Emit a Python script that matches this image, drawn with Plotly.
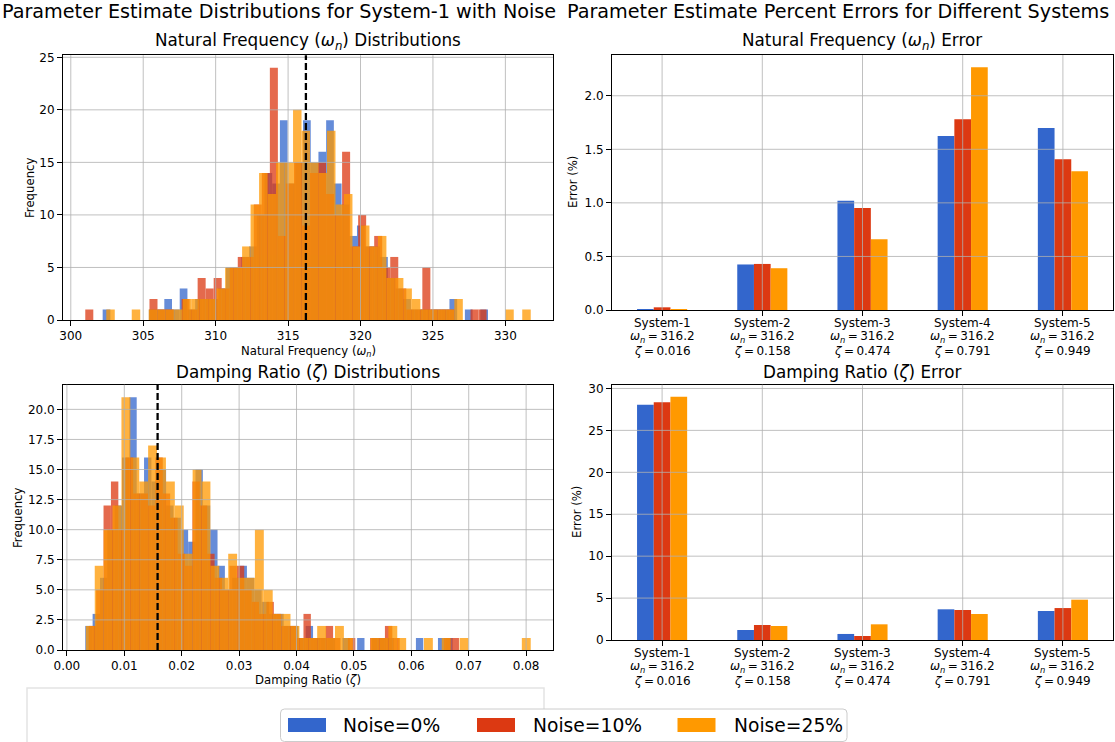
import plotly.graph_objects as go

W, H = 1115, 742
FONT = "DejaVu Sans"

# ---------------- data ----------------
noise_labels = ["Noise=0%", "Noise=10%", "Noise=25%"]
colors = ["#3366CC", "#DC3912", "#FF9900"]

# Natural frequency histograms: first bin edge, bin width, counts (50 bins each)
wn_start = [302.2, 301.0, 302.45]
wn_width = [0.532, 0.554, 0.586]
wn_counts_0 = [1, 0, 0, 0, 0, 0, 1, 1, 2, 1, 3, 1, 2, 2, 2, 3, 5, 5, 6, 7,
               10, 14, 13, 19, 13, 15, 19, 15, 16, 19, 13, 11, 8, 9, 7, 7, 6, 4, 3, 2,
               1, 1, 1, 1, 1, 2, 0, 1, 0, 1]
wn_counts_10 = [1, 0, 0, 0, 0, 0, 0, 0, 2, 1, 1, 0, 2, 1, 4, 3, 4, 3, 5, 6,
                6, 11, 14, 24, 8, 13, 15, 9, 14, 15, 12, 10, 16, 7, 10, 7, 8, 5, 6, 3,
                1, 1, 5, 1, 1, 1, 0, 0, 1, 1]
wn_counts_25 = [1, 0, 0, 1, 0, 1, 1, 1, 1, 2, 2, 2, 2, 3, 5, 5, 7, 11, 14, 12,
                15, 15, 20, 18, 15, 14, 18, 11, 12, 7, 9, 7, 8, 4, 4, 3, 2, 1, 1, 1,
                1, 2, 0, 0, 0, 0, 0, 1, 0, 1]

# Damping ratio histograms
zeta_start = [0.0032, 0.0038, 0.0033]
zeta_width = [0.00128, 0.00129, 0.00155]
zeta_counts_0 = [2, 3, 6, 10, 12, 16, 21, 13, 16, 14, 15, 12, 11, 10, 9, 15, 12, 10, 7, 5,
                 6, 7, 6, 5, 4, 3, 3, 2, 2, 1, 2, 1, 1, 1, 0, 1, 0, 1, 0, 1,
                 1, 1, 0, 0, 0, 1, 0, 0, 1, 1]
zeta_counts_10 = [2, 5, 12, 14, 10, 16, 13, 13, 12, 16, 13, 11, 8, 7, 14, 12, 8, 6, 5, 7,
                  7, 5, 4, 3, 4, 3, 2, 2, 1, 3, 1, 1, 2, 1, 0, 1, 0, 0, 1, 1,
                  2, 1, 0, 0, 0, 0, 0, 0, 1, 1]
zeta_counts_25 = [2, 7, 10, 12, 21, 16, 14, 17, 16, 14, 12, 8, 15, 14, 7, 6, 8, 6, 6, 10,
                  5, 3, 3, 2, 1, 1, 2, 1, 2, 1, 0, 0, 1, 1, 2, 1, 0, 0, 1, 0,
                  1, 0, 1, 0, 0, 0, 0, 0, 0, 1]

TRUE_WN = 316.23
TRUE_ZETA = 0.0158

systems = ["System-1", "System-2", "System-3", "System-4", "System-5"]
sys_wn = [316.2, 316.2, 316.2, 316.2, 316.2]
sys_zeta = [0.016, 0.158, 0.474, 0.791, 0.949]

wn_err_0 = [0.003, 0.425, 1.02, 1.624, 1.70]
wn_err_10 = [0.025, 0.43, 0.953, 1.78, 1.407]
wn_err_25 = [0.008, 0.39, 0.66, 2.267, 1.295]

zeta_err_0 = [28.05, 1.19, 0.72, 3.66, 3.46]
zeta_err_10 = [28.37, 1.79, 0.48, 3.58, 3.81]
zeta_err_25 = [29.0, 1.67, 1.87, 3.10, 4.81]

# ---------------- helpers ----------------
def px(x):
    return x / W

def py(y):
    return 1 - y / H

def centers(start, width, n):
    return [start + width * (i + 0.5) for i in range(n)]

wn_counts = [wn_counts_0, wn_counts_10, wn_counts_25]
zeta_counts = [zeta_counts_0, zeta_counts_10, zeta_counts_25]
wn_err = [wn_err_0, wn_err_10, wn_err_25]
zeta_err = [zeta_err_0, zeta_err_10, zeta_err_25]

fig = go.Figure()

def add_hist(starts, widths, counts_list, xa, ya):
    for k in range(3):
        n = len(counts_list[k])
        fig.add_trace(go.Bar(
            x=centers(starts[k], widths[k], n), y=counts_list[k], width=widths[k],
            marker=dict(color=colors[k], line=dict(width=0)), opacity=0.75,
            xaxis=xa, yaxis=ya, showlegend=False, name=noise_labels[k]))

add_hist(wn_start, wn_width, wn_counts, "x", "y")
add_hist(zeta_start, zeta_width, zeta_counts, "x2", "y2")

bw = 0.5 / 3
for k in range(3):
    fig.add_trace(go.Bar(x=systems, y=wn_err[k], width=bw, offset=-0.25 + k * bw,
                         marker=dict(color=colors[k], line=dict(width=0)),
                         xaxis="x3", yaxis="y3", showlegend=False, name=noise_labels[k]))
    fig.add_trace(go.Bar(x=systems, y=zeta_err[k], width=bw, offset=-0.25 + k * bw,
                         marker=dict(color=colors[k], line=dict(width=0)),
                         xaxis="x4", yaxis="y4", showlegend=False, name=noise_labels[k]))

# ranges derived from the data
def hist_xrange(starts, widths, counts_list):
    lo = min(starts)
    hi = max(s + w * len(c) for s, w, c in zip(starts, widths, counts_list))
    m = (hi - lo) * 0.05
    return [lo - m, hi + m]

wn_xr = hist_xrange(wn_start, wn_width, wn_counts)
z_xr = hist_xrange(zeta_start, zeta_width, zeta_counts)
wn_yr = [0, max(max(c) for c in wn_counts) * 1.05]
z_yr = [0, max(max(c) for c in zeta_counts) * 1.05]
e1_yr = [0, max(max(e) for e in wn_err) * 1.05]
e2_yr = [0, max(max(e) for e in zeta_err) * 1.05]

tick_font = dict(family=FONT, size=12, color="black")
common = dict(showline=True, mirror=True, linecolor="black", linewidth=1,
              ticks="outside", ticklen=5, tickcolor="black", tickwidth=1,
              showgrid=False, zeroline=False, tickfont=tick_font, automargin=False)

dom_left = [px(63), px(553)]
dom_right = [px(612), px(1113)]

wn_xt = [300, 305, 310, 315, 320, 325, 330]
wn_yt = [0, 5, 10, 15, 20, 25]
z_xt = [0.0, 0.01, 0.02, 0.03, 0.04, 0.05, 0.06, 0.07, 0.08]
z_yt = [0, 2.5, 5, 7.5, 10, 12.5, 15, 17.5, 20]
e1_yt = [0, 0.5, 1.0, 1.5, 2.0]
e2_yt = [0, 5, 10, 15, 20, 25, 30]

fig.update_layout(
    width=W, height=H, autosize=False,
    margin=dict(l=0, r=0, t=0, b=0, pad=0, autoexpand=False),
    paper_bgcolor="white", plot_bgcolor="white", barmode="overlay",
    font=dict(family=FONT, color="black"),
    xaxis=dict(domain=dom_left, anchor="y", range=wn_xr, tickvals=wn_xt, **common),
    yaxis=dict(domain=[py(320), py(55.2)], anchor="x", range=wn_yr, tickvals=wn_yt, **common),
    xaxis2=dict(domain=dom_left, anchor="y2", range=z_xr, tickvals=z_xt, tickformat=".2f", **common),
    yaxis2=dict(domain=[py(650), py(384.7)], anchor="x2", range=z_yr, tickvals=z_yt, tickformat=".1f", **common),
    xaxis3=dict(domain=dom_right, anchor="y3", type="category", range=[-0.5, 4.5],
                showticklabels=False, **common),
    yaxis3=dict(domain=[py(310), py(55)], anchor="x3", range=e1_yr, tickvals=e1_yt, tickformat=".1f", **common),
    xaxis4=dict(domain=dom_right, anchor="y4", type="category", range=[-0.5, 4.5],
                showticklabels=False, **common),
    yaxis4=dict(domain=[py(640), py(384.7)], anchor="x4", range=e2_yr, tickvals=e2_yt, **common),
)

shapes = []
GRID = dict(color="#b0b0b0", width=0.8)

def vgrid(xref, vals):
    yr = "y" if xref == "x" else "y" + xref[1:]
    for v in vals:
        shapes.append(dict(type="line", xref=xref, yref=f"{yr} domain",
                           x0=v, x1=v, y0=0, y1=1, line=GRID, layer="above"))

def hgrid(yref, vals, rng):
    xr = "x" if yref == "y" else "x" + yref[1:]
    for v in vals:
        if v <= rng[0] or v >= rng[1]:
            continue
        shapes.append(dict(type="line", xref=f"{xr} domain", yref=yref,
                           x0=0, x1=1, y0=v, y1=v, line=GRID, layer="above"))

vgrid("x", wn_xt); hgrid("y", wn_yt, wn_yr)
vgrid("x2", z_xt); hgrid("y2", z_yt, z_yr)
vgrid("x3", systems); hgrid("y3", e1_yt, e1_yr)
vgrid("x4", systems); hgrid("y4", e2_yt, e2_yr)

# true-value reference lines
shapes.append(dict(type="line", xref="x", yref="y domain", x0=TRUE_WN, x1=TRUE_WN, y0=0, y1=1,
                   line=dict(color="black", width=2.3, dash="7px,3px"), layer="above"))
shapes.append(dict(type="line", xref="x2", yref="y2 domain", x0=TRUE_ZETA, x1=TRUE_ZETA, y0=0, y1=1,
                   line=dict(color="black", width=2.3, dash="7px,3px"), layer="above"))

# faint empty box below bottom-left plot
shapes.append(dict(type="rect", xref="paper", yref="paper", x0=px(27), x1=px(544),
                   y0=py(760), y1=py(688), line=dict(color="#e4e4e4", width=1.5),
                   fillcolor="rgba(0,0,0,0)", layer="below"))

# legend frame (rounded)
def rounded_rect(x0, y0, x1, y1, r):
    X0, X1 = px(x0), px(x1)
    Y0, Y1 = py(y0), py(y1)
    rx, ry = r / W, r / H
    return (f"M {X0 + rx},{Y0} L {X1 - rx},{Y0} Q {X1},{Y0} {X1},{Y0 - ry} "
            f"L {X1},{Y1 + ry} Q {X1},{Y1} {X1 - rx},{Y1} L {X0 + rx},{Y1} "
            f"Q {X0},{Y1} {X0},{Y1 + ry} L {X0},{Y0 - ry} Q {X0},{Y0} {X0 + rx},{Y0} Z")

shapes.append(dict(type="path", xref="paper", yref="paper",
                   path=rounded_rect(280.5, 709, 847, 741.5, 4),
                   line=dict(color="#cccccc", width=1), fillcolor="white", layer="above"))

leg_patch_x = [288, 477, 677.5]
leg_text_x = [341, 531, 732]
for k in range(3):
    shapes.append(dict(type="rect", xref="paper", yref="paper",
                       x0=px(leg_patch_x[k]), x1=px(leg_patch_x[k] + 38),
                       y0=py(732), y1=py(718), line=dict(width=0),
                       fillcolor=colors[k], layer="above"))

fig.update_layout(shapes=shapes)

ann = []
def text(x, y, s, size, xanchor="center", angle=0, xref="paper"):
    ann.append(dict(x=px(x) if xref == "paper" else x, y=py(y), xref=xref, yref="paper",
                    text=s, showarrow=False, xanchor=xanchor, yanchor="middle",
                    textangle=angle, font=dict(family=FONT, size=size, color="black")))

text(279, 12, "Parameter Estimate Distributions for System-1 with Noise", 19.2)
text(838, 12, "Parameter Estimate Percent Errors for Different Systems", 19.2)
text(308, 41.5, "Natural Frequency (<i>ω<sub>n</sub></i>) Distributions", 16.8)
text(308, 372, "Damping Ratio (<i>ζ</i>) Distributions", 16.8)
text(862, 41.5, "Natural Frequency (<i>ω<sub>n</sub></i>) Error", 16.8)
text(862, 372, "Damping Ratio (<i>ζ</i>) Error", 16.8)
text(308, 351, "Natural Frequency (<i>ω<sub>n</sub></i>)", 11.7)
text(308, 680, "Damping Ratio (<i>ζ</i>)", 11.7)
text(30, 188, "Frequency", 11.7, angle=-90)
text(18, 518, "Frequency", 11.7, angle=-90)
text(573, 182, "Error (%)", 11.7, angle=-90)
text(577, 512, "Error (%)", 11.7, angle=-90)
for k in range(3):
    text(leg_text_x[k], 725, noise_labels[k], 18.7, xanchor="left")

# multi-line category labels under both bar charts
TS = "\u2009"
for xref, base in (("x3", 310), ("x4", 640)):
    for s, w, z in zip(systems, sys_wn, sys_zeta):
        text(s, base + 13.3, s, 12, xref=xref)
        text(s, base + 27.0, f"<i>ω<sub>n</sub></i>{TS}={TS}{w:.1f}", 12, xref=xref)
        text(s, base + 40.7, f"<i>ζ</i>{TS}={TS}{z:.3f}", 12, xref=xref)

fig.update_layout(annotations=ann)
fig.write_html("out.html")
